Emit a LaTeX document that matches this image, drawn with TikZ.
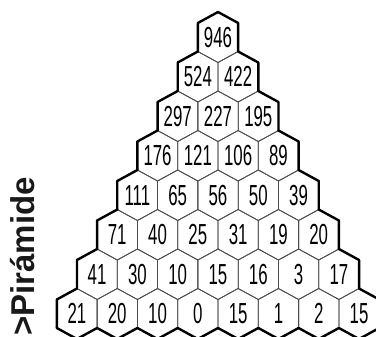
\documentclass[tikz,border=0pt]{standalone}
\usepackage{fontspec}
\setmainfont{Liberation Sans}
\newfontfamily\numfont[FakeStretch=0.58]{Liberation Sans}
\newfontfamily\labfont{Liberation Sans}
\tikzset{
  cell/.style={draw=black!70, line width=0.8bp},
  rim/.style={draw=black, line width=2.4bp, line cap=round, line join=round},
  num/.style={font=\numfont\fontsize{29bp}{29bp}\selectfont, inner sep=0pt, text=black},
  title/.style={font=\labfont\bfseries\fontsize{33bp}{33bp}\selectfont, inner sep=0pt, rotate=90, anchor=south west, text=black!90}
}
\begin{document}
\begin{tikzpicture}[x=1bp,y=-1bp]
\useasboundingbox (0,0) rectangle (376,337);
\clip (0,0) rectangle (376,337);
\def\dx{20.15}
\def\sl{11}
\def\sd{28.5}
\def\rs{39.5}
% cells
\foreach \r/\lst in {0/{946},1/{524,422},2/{297,227,195},3/{176,121,106,89},4/{111,65,56,50,39},5/{71,40,25,31,19,20},6/{41,30,10,15,16,3,17},7/{21,20,10,0,15,1,2,15}}{
  \foreach \v [count=\i from 0] in \lst {
    \pgfmathsetmacro\cx{218+(\i-\r/2)*2*\dx}
    \pgfmathsetmacro\ty{12+\rs*\r}
    \draw[cell] (\cx,\ty) -- ++(\dx,\sl) -- ++(0,\sd) -- ++(-\dx,\sl) -- ++(-\dx,-\sl) -- ++(0,-\sd) -- cycle;
    \node[num] (h-\r-\i) at (\cx,\ty+25.25) {\v};
  }
}
% outer rim: left and right staircases
\foreach \r in {0,...,7}{
  \pgfmathsetmacro\lx{218-\r*\dx}
  \pgfmathsetmacro\rx{218+\r*\dx}
  \pgfmathsetmacro\ty{12+\rs*\r}
  \draw[rim] (\lx,\ty) -- ++(-\dx,\sl) -- ++(0,\sd);
  \draw[rim] (\rx,\ty) -- ++(\dx,\sl) -- ++(0,\sd);
}
% bottom zigzag
\foreach \i in {0,...,7}{
  \pgfmathsetmacro\cx{218+(\i-3.5)*2*\dx}
  \pgfmathsetmacro\ty{12+\rs*7}
  \draw[rim] (\cx-\dx,\ty+\rs) -- ++(\dx,\sl) -- ++(\dx,-\sl);
}
\node[title] (lbl) at (35,336) {>Pirámide};
\end{tikzpicture}
\end{document}
